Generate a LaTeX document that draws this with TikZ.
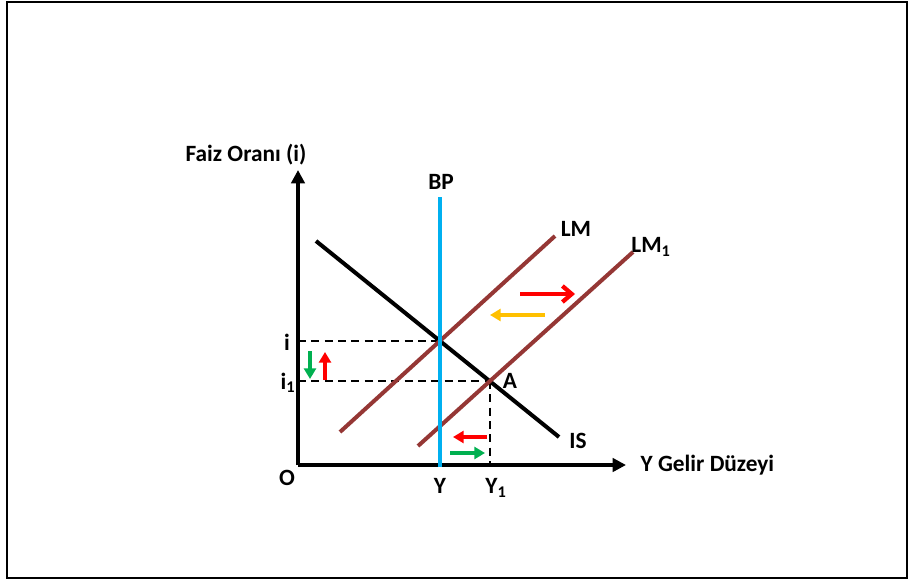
\documentclass[tikz,border=0pt]{standalone}
\usepackage{fontspec}
\setmainfont{Carlito}
\usetikzlibrary{arrows.meta}
\definecolor{bpblue}{RGB}{0,176,240}
\definecolor{lmbrown}{RGB}{149,55,53}
\definecolor{arrgreen}{RGB}{0,176,80}
\definecolor{arrgold}{RGB}{255,192,0}

\begin{document}
\begin{tikzpicture}[x=0.75pt,y=-0.75pt,
  lbl/.style={font=\fontsize{17.5}{20}\selectfont\bfseries},
  curve/.style={line width=3pt},
  guide/.style={line width=0.9pt,dash pattern=on 6pt off 4pt},
  shiftarr/.style={line width=3pt,-{Triangle[length=8pt,width=9pt]}},
  openarr/.style={line width=3.2pt,-{Straight Barb[length=7pt,width=12pt]}}]
\useasboundingbox (0,0) rectangle (909,585);
\draw[line width=1.6pt] (7,2) rectangle (907,578);
%
\coordinate (O) at (298,465);
\coordinate (ytop) at (298,170);
\coordinate (xend) at (626,465);
\draw[line width=3.2pt,-{Triangle[length=10pt,width=10pt]}] (O) -- (ytop);
\draw[line width=3.2pt,-{Triangle[length=10pt,width=10pt]}] (O) -- (xend);
%
\coordinate (bpt) at (440,197);
\coordinate (bpb) at (440,467);
\coordinate (ist) at (316,241);
\coordinate (isb) at (559,437);
\coordinate (lmb) at (340,432);
\coordinate (lmt) at (555,236);
\coordinate (lmob) at (418,446);
\coordinate (lmot) at (633,252);
\coordinate (E) at (440,341);
\coordinate (A) at (490,381);
\coordinate (ilev) at (298,341);
\coordinate (i1lev) at (298,381);
\coordinate (y1lev) at (490,465);
%
\draw[guide] (ilev) -- (E);
\draw[guide] (i1lev) -- (A);
\draw[guide] (A) -- (y1lev);
\draw[curve] (ist) -- (isb);
\draw[curve,lmbrown] (lmb) -- (lmt);
\draw[curve,lmbrown] (lmob) -- (lmot);
\draw[curve,bpblue] (bpt) -- (bpb);
%
\coordinate (g1) at (310,351); \coordinate (g2) at (310,379);
\coordinate (r1) at (325,380); \coordinate (r2) at (325,352);
\draw[shiftarr,arrgreen] (g1) -- (g2);
\draw[shiftarr,red] (r1) -- (r2);
\coordinate (ra) at (520,294); \coordinate (rb) at (575,294);
\coordinate (ya) at (545,315); \coordinate (yb) at (490,315);
\draw[openarr,red] (ra) -- (rb);
\draw[shiftarr,arrgold] (ya) -- (yb);
\coordinate (rc) at (487,437); \coordinate (rd) at (453,437);
\coordinate (gc) at (450,453); \coordinate (gd) at (485,453);
\draw[shiftarr,red] (rc) -- (rd);
\draw[shiftarr,arrgreen] (gc) -- (gd);
%
\node[lbl] (faiz) at (246,155) {Faiz Oranı (i)};
\node[lbl,anchor=west] (gelir) at (636,465) {Y Gelir Düzeyi};
\node[lbl] (ol) at (287,478) {O};
\node[lbl] (bpl) at (441,182) {BP};
\node[lbl] (lml) at (576,229) {LM};
\node[lbl] (lm1l) at (651,247) {LM\textsubscript{1}};
\node[lbl] (isl) at (578,441) {IS};
\node[lbl] (al) at (510,381) {A};
\node[lbl] (il) at (287,342) {i};
\node[lbl] (i1l) at (288,383) {i\textsubscript{1}};
\node[lbl] (yl) at (440,486) {Y};
\node[lbl] (y1l) at (496,488) {Y\textsubscript{1}};
\end{tikzpicture}
\end{document}
